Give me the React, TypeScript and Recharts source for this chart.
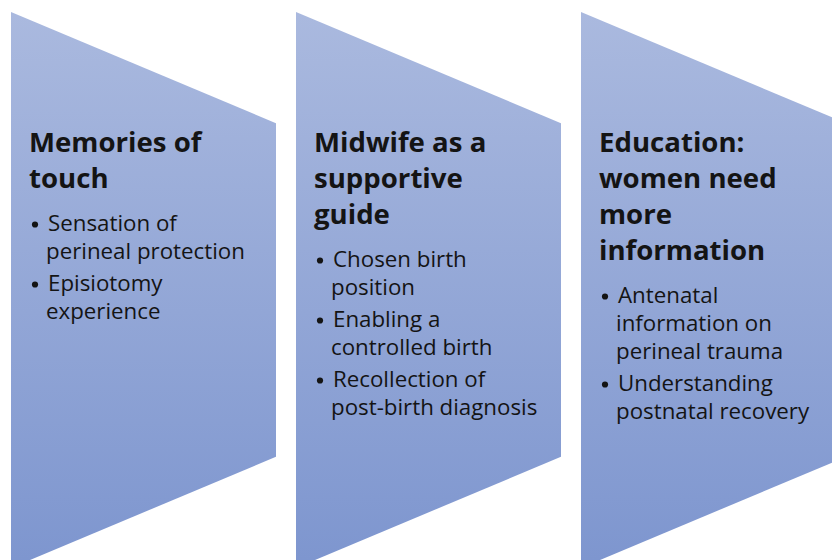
import { Bar, BarChart, XAxis, YAxis } from "recharts";

// three themes, each drawn as one tapered chevron
const THEMES = ["Memories of touch", "Midwife as a supportive guide", "Education: women need more information"];

const TITLE_LINES = [
  ["Memories of", "touch"],
  ["Midwife as a", "supportive", "guide"],
  ["Education:", "women need", "more", "information"],
];

const BULLETS = [
  [
    ["Sensation of", "perineal protection"],
    ["Episiotomy", "experience"],
  ],
  [
    ["Chosen birth", "position"],
    ["Enabling a", "controlled birth"],
    ["Recollection of", "post-birth diagnosis"],
  ],
  [
    ["Antenatal", "information on", "perineal trauma"],
    ["Understanding", "postnatal recovery"],
  ],
];

// vertical extent of each shape's left edge
const SPANS: [number, number][] = [
  [-278, 278],
  [-278, 278],
  [-278, 278],
];

const data = THEMES.map((theme, i) => ({
  theme,
  span: SPANS[i],
  title: TITLE_LINES[i],
  bullets: BULLETS[i],
}));

const FONT = "'Open Sans', Lato, sans-serif";
const TEXT_COLOR = "#141414";

function Chevron(props: any) {
  const { x, y, width, height, payload } = props;
  const taper = height * 0.2;
  const pts = [
    [x, y],
    [x + width, y + taper],
    [x + width, y + height - taper],
    [x, y + height],
  ]
    .map((p) => p.join(","))
    .join(" ");

  const lines: { text: string; dy: number; bold?: boolean; bullet?: boolean; indent: number }[] = [];
  let cy = y + 140;
  payload.title.forEach((t: string, i: number) => {
    if (i > 0) cy += 36;
    lines.push({ text: t, dy: cy, bold: true, indent: 18 });
  });
  cy += 43;
  payload.bullets.forEach((b: string[], bi: number) => {
    if (bi > 0) cy += 32;
    b.forEach((t, li) => {
      if (li > 0) cy += 28;
      lines.push({ text: t, dy: cy, bullet: li === 0, indent: li === 0 ? 37 : 35 });
    });
  });

  return (
    <g>
      <polygon points={pts} fill="url(#chevronFill)" />
      {lines.map((l, i) => (
        <g key={i}>
          {l.bullet && <circle cx={x + 24} cy={l.dy - 6.5} r={3.1} fill={TEXT_COLOR} />}
          <text
            x={x + l.indent}
            y={l.dy}
            fontFamily={FONT}
            fontSize={l.bold ? 27.6 : 22.3}
            fontWeight={l.bold ? 700 : 400}
            fill={TEXT_COLOR}
          >
            {l.text}
          </text>
        </g>
      ))}
    </g>
  );
}

export default function App() {
  return (
    <div style={{ width: 832, height: 560, background: "#fff" }}>
      <style>{"body{margin:0;overflow:hidden}"}</style>
      <BarChart
        width={832}
        height={560}
        data={data}
        margin={{ top: 0, right: -24, bottom: 0, left: 1 }}
        barCategoryGap={10}
      >
        <defs>
          <linearGradient id="chevronFill" x1="0" y1="0" x2="0" y2="560" gradientUnits="userSpaceOnUse">
            <stop offset="0%" stopColor="#abbadf" />
            <stop offset="100%" stopColor="#7e96cf" />
          </linearGradient>
        </defs>
        <XAxis dataKey="theme" hide />
        <YAxis type="number" domain={[-270, 290]} hide allowDataOverflow />
        <Bar dataKey="span" shape={<Chevron />} isAnimationActive={false} />
      </BarChart>
    </div>
  );
}
